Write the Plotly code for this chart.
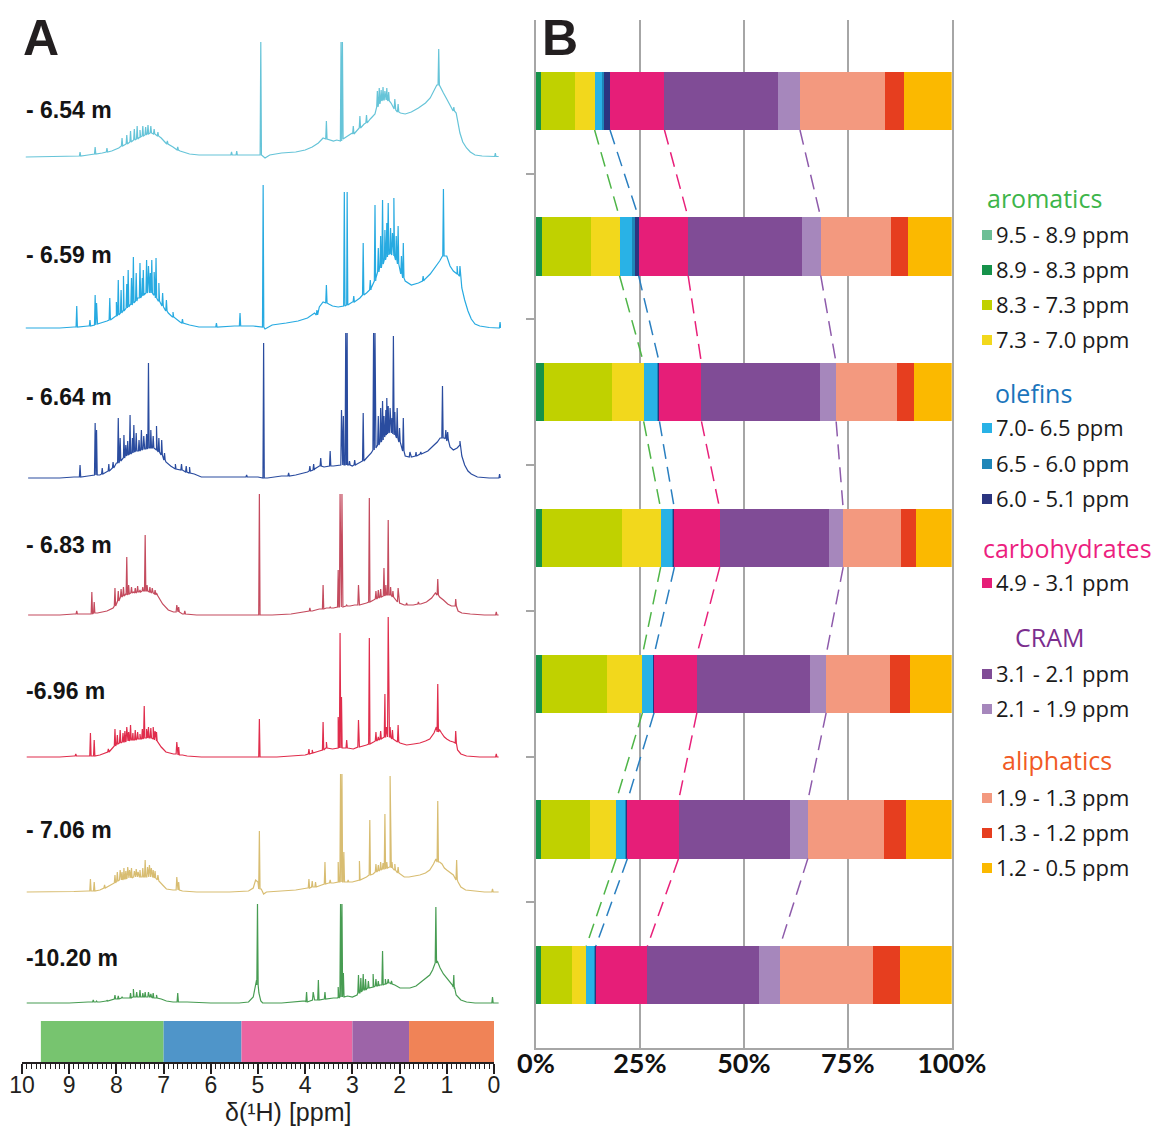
import numpy as np
import plotly.graph_objects as go

# ---------------------------------------------------------------- data ----
# Panel A: 1H NMR spectra, one per depth.  Each spectrum is given as a smooth
# envelope (ppm, intensity) plus a list of resolved lines (ppm, foot, top).
depth_labels = ["- 6.54 m", "- 6.59 m", "- 6.64 m", "- 6.83 m",
                "-6.96 m", "- 7.06 m", "-10.20 m"]
spectrum_colors = ["#66c4d8", "#27aae1", "#2a4c9f", "#c44b5e",
                   "#e02d4c", "#d8bd72", "#479c52"]

env_654 = [(9.92, 0), (9.3, 0.5), (8.9, 1), (8.6, 2), (8.3, 4), (8.1, 6), (7.95, 9),
           (7.8, 13), (7.65, 17), (7.5, 20), (7.35, 23), (7.25, 24), (7.15, 22),
           (7.05, 19), (6.95, 14), (6.8, 10), (6.65, 6), (6.45, 3), (6.25, 2),
           (5.9, 2), (5.6, 2), (5.3, 2), (5.08, 2), (4.85, -1), (4.75, 2), (4.5, 4),
           (4.2, 5), (4.0, 7), (3.85, 10), (3.72, 14), (3.62, 19), (3.48, 17),
           (3.40, 16), (3.33, 17), (3.10, 21), (3.0, 24), (2.9, 27), (2.75, 33),
           (2.62, 38), (2.52, 43), (2.45, 52), (2.38, 57), (2.28, 58), (2.18, 54),
           (2.08, 47), (1.98, 44), (1.88, 43), (1.75, 45), (1.6, 49), (1.45, 54),
           (1.35, 59), (1.27, 66), (1.21, 72), (1.13, 70), (1.07, 64), (1.0, 58),
           (0.93, 52), (0.86, 47), (0.8, 44), (0.77, 36), (0.72, 24), (0.66, 15),
           (0.58, 9), (0.5, 5), (0.4, 2), (0.25, 1), (0.05, 0.5), (-0.1, 0.5)]
lines_654 = [(8.77, 1, 5), (8.45, 3, 10), (8.2, 5, 9), (7.88, 11, 19), (7.78, 13, 22),
             (7.7, 15, 26), (7.62, 17, 28), (7.56, 18, 31), (7.5, 20, 27), (7.44, 21, 31),
             (7.38, 22, 30), (7.33, 23, 32), (7.27, 24, 31), (7.2, 23, 28), (7.12, 21, 25),
             (6.92, 13, 16), (6.7, 7, 10), (5.56, 2, 5), (5.45, 2, 6), (4.94, 2, 115),
             (3.55, 18, 36), (3.24, 16, 115), (3.21, 18, 115),
             (2.98, 23, 31), (2.84, 29, 41), (2.7, 34, 42),
             (2.47, 50, 66), (2.43, 53, 69), (2.39, 56, 67), (2.35, 57, 70),
             (2.31, 57, 66), (2.27, 57, 69), (2.23, 56, 65), (2.1, 48, 58),
             (2.03, 45, 53), (1.17, 72, 108), (0.85, 46, 50), (-0.03, 0.5, 4)]

env_659 = [(9.92, 0), (9.2, 0), (8.9, 1), (8.6, 2), (8.4, 4), (8.2, 7), (8.0, 12),
           (7.85, 18), (7.7, 24), (7.55, 30), (7.42, 34), (7.3, 36), (7.2, 33),
           (7.1, 27), (7.0, 21), (6.9, 15), (6.8, 11), (6.65, 6), (6.45, 3), (6.25, 1),
           (5.9, 1), (5.5, 2), (5.1, 2), (4.85, -1), (4.7, 3), (4.4, 5), (4.15, 7),
           (3.95, 10), (3.8, 15), (3.7, 21), (3.62, 26), (3.5, 24), (3.42, 22),
           (3.3, 21), (3.12, 23), (3.0, 26), (2.84, 30), (2.7, 35), (2.6, 40),
           (2.5, 50), (2.42, 62), (2.32, 70), (2.22, 75), (2.12, 72), (2.02, 64),
           (1.94, 52), (1.88, 47), (1.75, 43), (1.6, 45), (1.48, 48), (1.35, 54),
           (1.25, 60), (1.15, 67), (1.09, 72), (1.0, 72), (0.93, 62), (0.86, 57),
           (0.78, 54), (0.73, 52), (0.68, 40), (0.62, 28), (0.55, 17), (0.48, 9),
           (0.4, 4), (0.3, 2), (0.1, 0.5), (-0.1, 0)]
lines_659 = [(8.84, 1, 22), (8.56, 2, 8), (8.45, 3, 33), (8.42, 4, 25), (8.14, 8, 30),
             (8.0, 12, 26), (7.96, 13, 48), (7.9, 15, 38), (7.85, 17, 52), (7.78, 20, 44),
             (7.75, 21, 58), (7.68, 23, 50), (7.64, 25, 71), (7.58, 27, 55), (7.5, 30, 65),
             (7.45, 32, 50), (7.43, 33, 58), (7.36, 35, 68), (7.32, 36, 62), (7.28, 35, 55),
             (7.25, 35, 68), (7.2, 33, 56), (7.16, 30, 70), (7.1, 27, 45), (7.02, 22, 35),
             (6.94, 17, 28), (6.8, 11, 16), (6.6, 5, 9), (5.88, 1, 5), (5.38, 2, 15),
             (4.89, 1, 143), (3.75, 13, 18), (3.55, 25, 43), (3.17, 22, 136),
             (3.11, 23, 136), (2.97, 26, 32), (2.77, 33, 85), (2.62, 38, 48),
             (2.52, 47, 123), (2.45, 56, 80), (2.4, 60, 92), (2.36, 64, 128),
             (2.31, 68, 98), (2.27, 71, 105), (2.24, 73, 125), (2.19, 74, 100),
             (2.15, 73, 95), (2.12, 72, 130), (2.07, 68, 92), (2.03, 64, 102),
             (1.96, 54, 72), (1.92, 50, 85), (1.5, 47, 52), (1.07, 72, 139),
             (0.78, 54, 62), (0.72, 52, 62), (-0.13, 0, 6)]

env_664 = [(9.87, 0), (9.2, 0), (8.9, 1), (8.6, 2), (8.35, 3), (8.15, 7), (8.0, 15),
           (7.85, 21), (7.7, 25), (7.55, 27), (7.4, 29), (7.28, 30), (7.15, 28),
           (7.05, 24), (6.95, 16), (6.85, 12), (6.75, 9), (6.6, 8), (6.45, 6),
           (6.35, 4), (6.2, 1), (5.8, 1), (5.4, 1), (5.0, 1), (4.8, 0), (4.5, 2),
           (4.2, 3), (3.95, 6), (3.8, 9), (3.7, 12), (3.6, 11), (3.5, 12), (3.4, 12),
           (3.3, 13), (3.1, 13), (3.0, 12), (2.9, 14), (2.8, 16), (2.7, 20), (2.6, 25),
           (2.5, 30), (2.42, 35), (2.32, 42), (2.22, 46), (2.12, 44), (2.02, 38),
           (1.94, 28), (1.88, 22), (1.75, 21), (1.64, 22), (1.5, 25), (1.4, 27),
           (1.29, 32), (1.2, 36), (1.14, 40), (1.05, 40), (1.0, 37), (0.93, 31),
           (0.86, 28), (0.78, 30), (0.72, 33), (0.68, 22), (0.62, 13), (0.55, 7),
           (0.48, 4), (0.35, 1), (0.1, 0), (-0.1, 0)]
lines_664 = [(8.77, 1, 13), (8.45, 3, 55), (8.42, 3, 48), (8.3, 4, 10), (8.16, 7, 14),
             (8.07, 10, 16), (7.96, 15, 60), (7.92, 17, 40), (7.84, 20, 43), (7.8, 22, 33),
             (7.76, 23, 37), (7.71, 24, 63), (7.66, 25, 40), (7.63, 26, 53), (7.58, 27, 45),
             (7.52, 27, 38), (7.47, 28, 48), (7.42, 29, 42), (7.36, 29, 44), (7.32, 30, 115),
             (7.27, 30, 48), (7.22, 30, 42), (7.15, 28, 52), (7.1, 26, 40), (7.04, 23, 38),
             (6.98, 18, 25), (6.75, 9, 14), (6.62, 8, 14), (6.52, 6, 12), (6.45, 5, 11),
             (5.24, 1, 3), (4.88, 0, 135), (4.35, 2, 5), (3.9, 7, 12), (3.82, 8, 14),
             (3.67, 12, 20), (3.47, 12, 27), (3.23, 13, 68), (3.19, 13, 62),
             (3.14, 13, 145), (3.11, 13, 145), (3.06, 13, 17), (2.95, 13, 18),
             (2.77, 17, 65), (2.55, 28, 145), (2.52, 30, 145), (2.45, 33, 62),
             (2.4, 36, 70), (2.36, 38, 77), (2.33, 41, 62), (2.29, 43, 68),
             (2.27, 44, 80), (2.24, 45, 72), (2.2, 46, 70), (2.16, 45, 60),
             (2.13, 44, 142), (2.1, 43, 66), (2.05, 40, 70), (2.0, 36, 50),
             (1.92, 27, 60), (1.78, 21, 26), (1.65, 22, 26), (1.55, 24, 26),
             (1.09, 40, 92), (1.02, 39, 48), (0.98, 38, 46), (0.72, 33, 37),
             (-0.12, 0, 4)]

env_683 = [(9.87, 0), (9.2, 0), (8.9, 1), (8.6, 1), (8.4, 2), (8.2, 4), (8.07, 7),
           (7.95, 18), (7.8, 21), (7.64, 23), (7.5, 24), (7.36, 24), (7.22, 22),
           (7.12, 19), (7.02, 11), (6.9, 5), (6.79, 3), (6.6, 1), (6.3, 0), (5.6, 0),
           (5.1, 0), (4.9, 0), (4.7, 0), (4.3, 1), (4.0, 3), (3.85, 4), (3.7, 6),
           (3.55, 7), (3.4, 7), (3.2, 8), (3.05, 9), (2.95, 10), (2.85, 10), (2.7, 12),
           (2.55, 15), (2.42, 18), (2.3, 20), (2.2, 20), (2.1, 16), (2.0, 12), (1.9, 10),
           (1.71, 10), (1.55, 11), (1.43, 13), (1.32, 17), (1.24, 22), (1.15, 18),
           (1.07, 15), (0.98, 11), (0.9, 9), (0.82, 9), (0.76, 4), (0.68, 2), (0.5, 1),
           (0.2, 0), (-0.1, 0)]
lines_683 = [(8.84, 1, 4), (8.52, 1, 23), (8.47, 2, 13), (8.03, 9, 27), (7.96, 14, 24),
             (7.9, 18, 26), (7.85, 19, 28), (7.78, 20, 58), (7.74, 21, 30), (7.68, 22, 28),
             (7.6, 22, 27), (7.55, 23, 29), (7.5, 23, 25), (7.44, 24, 28), (7.39, 24, 80),
             (7.35, 24, 30), (7.29, 23, 28), (7.24, 22, 27), (7.18, 21, 25), (7.15, 20, 22),
             (6.72, 3, 10), (6.68, 3, 8), (6.55, 1, 4), (4.97, 0, 121), (3.9, 4, 7),
             (3.62, 6, 30), (3.47, 7, 8), (3.3, 8, 45), (3.26, 8, 121), (3.22, 8, 121),
             (3.12, 9, 10), (2.87, 10, 30), (2.64, 13, 117),
             (2.5, 16, 24), (2.45, 17, 25), (2.4, 18, 26), (2.33, 19, 47), (2.29, 20, 30),
             (2.24, 20, 95), (2.19, 20, 28), (2.14, 18, 24), (2.03, 13, 27),
             (1.85, 10, 12), (1.6, 11, 13), (1.19, 20, 36), (0.81, 9, 16), (-0.05, 0, 3)]

env_696 = [(9.9, 0), (9.2, 0), (8.9, 1), (8.6, 1), (8.35, 2), (8.14, 6), (8.0, 13),
           (7.85, 15), (7.64, 17), (7.5, 18), (7.36, 19), (7.22, 18), (7.15, 16),
           (7.05, 10), (6.95, 5), (6.79, 3), (6.6, 2), (6.5, 1), (6.2, 0), (5.5, 0),
           (5.08, 0), (4.88, 0), (4.6, 0), (4.3, 1), (4.0, 2), (3.85, 4), (3.7, 6),
           (3.55, 9), (3.42, 8), (3.3, 9), (3.1, 9), (2.98, 8), (2.85, 10), (2.7, 12),
           (2.55, 15), (2.42, 18), (2.3, 20), (2.2, 20), (2.1, 17), (1.99, 14),
           (1.85, 12), (1.7, 13), (1.57, 14), (1.45, 16), (1.36, 18), (1.27, 24),
           (1.22, 30), (1.15, 27), (1.11, 24), (1.05, 20), (1.0, 18), (0.93, 16),
           (0.86, 15), (0.82, 14), (0.77, 7), (0.7, 3), (0.58, 1), (0.3, 0), (-0.1, 0)]
lines_696 = [(8.86, 1, 3), (8.55, 1, 24), (8.47, 1, 17), (8.17, 5, 8), (8.03, 11, 28),
             (7.98, 13, 22), (7.92, 14, 27), (7.86, 15, 24), (7.82, 15, 26), (7.78, 16, 30),
             (7.74, 16, 25), (7.7, 17, 32), (7.65, 17, 24), (7.6, 17, 27), (7.55, 18, 25),
             (7.5, 18, 23), (7.45, 18, 28), (7.41, 19, 51), (7.36, 19, 28), (7.32, 19, 30),
             (7.27, 19, 29), (7.22, 18, 30), (7.18, 17, 26), (7.15, 16, 25), (6.72, 3, 15),
             (6.68, 2, 10), (4.97, 0, 38), (3.92, 3, 8), (3.85, 4, 7), (3.62, 7, 35),
             (3.55, 9, 15), (3.3, 9, 40), (3.26, 9, 124), (3.23, 9, 60), (3.12, 9, 17),
             (2.87, 10, 37), (2.64, 13, 119), (2.5, 16, 25), (2.45, 17, 20), (2.4, 18, 26),
             (2.31, 20, 63), (2.28, 20, 30), (2.24, 20, 140), (2.2, 20, 30),
             (2.15, 18, 27), (2.03, 15, 32), (1.19, 25, 73), (0.81, 14, 26), (-0.05, 0, 3)]

env_706 = [(9.9, 0), (9.2, 0), (8.9, 0.5), (8.6, 1), (8.35, 2), (8.07, 8), (7.95, 12),
           (7.85, 13), (7.64, 15), (7.5, 15), (7.36, 15), (7.22, 15), (7.1, 11), (7.0, 6),
           (6.94, 3), (6.8, 2), (6.6, 1), (6.3, 0), (5.6, 0), (5.2, 1), (5.1, 4),
           (5.05, 12), (5.0, 10), (4.93, 3), (4.88, -2), (4.82, 0), (4.5, 1), (4.2, 2),
           (3.95, 4), (3.8, 5), (3.65, 7), (3.5, 9), (3.4, 9), (3.3, 10), (3.1, 10),
           (3.0, 10), (2.85, 12), (2.7, 15), (2.56, 18), (2.42, 22), (2.3, 24), (2.2, 25),
           (2.1, 22), (1.99, 18), (1.9, 15), (1.8, 15), (1.65, 16), (1.57, 17), (1.45, 19),
           (1.36, 22), (1.28, 28), (1.23, 33), (1.15, 30), (1.1, 28), (1.05, 24),
           (1.0, 22), (0.93, 19), (0.86, 17), (0.8, 15), (0.76, 10), (0.7, 5), (0.6, 2),
           (0.4, 1), (0.2, 0), (-0.1, 0)]
lines_706 = [(8.55, 1, 13), (8.47, 1, 10), (8.25, 4, 7), (8.03, 9, 17), (7.98, 11, 20),
             (7.92, 12, 22), (7.88, 12, 20), (7.84, 13, 24), (7.8, 13, 21), (7.76, 14, 25),
             (7.72, 14, 22), (7.68, 14, 24), (7.62, 15, 21), (7.58, 15, 23), (7.54, 15, 20),
             (7.5, 15, 22), (7.44, 15, 24), (7.39, 15, 32), (7.34, 15, 25), (7.3, 15, 27),
             (7.26, 15, 24), (7.22, 15, 22), (7.18, 14, 21), (7.12, 12, 17), (6.72, 2, 15),
             (6.68, 2, 10), (4.97, 3, 61), (3.92, 4, 13), (3.85, 5, 11), (3.78, 5, 10),
             (3.58, 8, 30), (3.47, 9, 12), (3.3, 10, 30), (3.25, 10, 118),
             (3.22, 10, 118), (3.18, 10, 40), (3.09, 10, 12), (2.85, 12, 31),
             (2.63, 17, 72), (2.5, 20, 28), (2.45, 21, 27), (2.4, 22, 30), (2.35, 23, 29),
             (2.31, 23, 78), (2.27, 24, 30), (2.2, 25, 116), (2.16, 24, 30), (2.1, 22, 28),
             (2.03, 19, 25), (1.19, 30, 91), (0.79, 12, 32), (0.03, 0, 3)]

env_1020 = [(9.9, 0), (9.0, 0), (8.6, 1), (8.35, 1), (8.2, 2), (8.0, 4), (7.8, 5),
            (7.64, 6), (7.45, 6), (7.3, 6), (7.15, 5), (7.05, 4), (6.94, 2), (6.8, 1),
            (6.5, 1), (6.0, 0), (5.4, 0), (5.2, 1), (5.1, 6), (5.06, 18), (5.03, 23),
            (4.98, 10), (4.94, 2), (4.9, 0), (4.5, 0), (4.2, 1), (4.0, 2), (3.8, 3),
            (3.6, 4), (3.4, 5), (3.3, 6), (3.1, 7), (3.0, 6), (2.9, 8), (2.84, 10),
            (2.7, 14), (2.56, 16), (2.42, 18), (2.3, 19), (2.2, 20), (2.1, 18), (1.99, 15),
            (1.85, 15), (1.78, 15), (1.65, 17), (1.57, 20), (1.5, 22), (1.43, 25),
            (1.36, 28), (1.3, 33), (1.26, 40), (1.2, 42), (1.14, 35), (1.07, 29),
            (1.0, 25), (0.93, 20), (0.88, 18), (0.84, 14), (0.8, 8), (0.7, 3), (0.58, 1),
            (0.4, 0), (-0.1, 0)]
lines_1020 = [(8.49, 1, 3), (8.42, 1, 2), (8.2, 2, 3), (8.03, 4, 8), (7.96, 4, 7),
              (7.88, 5, 6), (7.7, 5, 10), (7.64, 6, 14), (7.57, 6, 11), (7.5, 6, 13),
              (7.44, 6, 10), (7.39, 6, 11), (7.32, 6, 11), (7.27, 6, 9), (7.22, 5, 10),
              (7.15, 5, 8), (6.7, 1, 10), (5.01, 18, 99), (3.97, 1, 11), (3.83, 3, 11),
              (3.72, 3, 23), (3.58, 4, 11), (3.3, 5, 16), (3.25, 6, 99), (3.22, 6, 99),
              (3.19, 6, 30), (2.87, 10, 28), (2.82, 11, 25), (2.77, 13, 29),
              (2.72, 13, 24), (2.66, 15, 22), (2.56, 16, 29), (2.5, 17, 24),
              (2.45, 17, 22), (2.36, 18, 52), (2.3, 19, 24), (2.24, 20, 24),
              (2.17, 19, 22), (1.23, 40, 96), (0.85, 16, 28), (0.03, 0, 6)]

spectra = [(env_654, lines_654), (env_659, lines_659), (env_664, lines_664),
           (env_683, lines_683), (env_696, lines_696), (env_706, lines_706),
           (env_1020, lines_1020)]

# chemical-shift regions shown as the colour strip under the spectra
region_edges = [9.6, 7.0, 5.35, 3.0, 1.8, 0.0]
region_colors = ["#77c46f", "#4f95c9", "#ec64a1", "#9d64a8", "#f08357"]

# Panel B: relative integrals (%) of each spectral window, one value per depth
frac_95_89 = [0.1, 0.1, 0.1, 0.1, 0.1, 0.1, 0.1]
frac_89_83 = [1.2, 1.4, 1.8, 1.4, 1.4, 1.2, 1.0]
frac_83_73 = [8.2, 11.8, 16.4, 19.1, 15.5, 11.6, 7.5]
frac_73_70 = [4.6, 6.8, 7.6, 9.4, 8.6, 6.4, 3.5]
frac_70_65 = [2.0, 3.0, 3.4, 2.9, 2.6, 2.2, 1.9]
frac_65_60 = [0.3, 0.8, 0.2, 0.2, 0.1, 0.2, 0.2]
frac_60_51 = [1.4, 0.8, 0.2, 0.2, 0.1, 0.3, 0.2]
frac_49_31 = [13.1, 11.9, 10.1, 10.9, 10.3, 12.3, 12.4]
frac_31_21 = [27.3, 27.5, 28.5, 26.2, 27.2, 26.8, 26.8]
frac_21_19 = [5.3, 4.4, 3.9, 3.5, 3.9, 4.3, 5.1]
frac_19_13 = [20.5, 16.9, 14.7, 13.9, 15.4, 18.3, 22.4]
frac_13_12 = [4.5, 4.1, 4.0, 3.5, 4.7, 5.4, 6.4]
frac_12_05 = [11.5, 10.5, 9.1, 8.7, 10.1, 10.9, 12.5]

window_labels = ["9.5 - 8.9 ppm", "8.9 - 8.3 ppm", "8.3 - 7.3 ppm", "7.3 - 7.0 ppm",
                 "7.0- 6.5 ppm", "6.5 - 6.0 ppm", "6.0 - 5.1 ppm",
                 "4.9 - 3.1 ppm",
                 "3.1 - 2.1 ppm", "2.1 - 1.9 ppm",
                 "1.9 - 1.3 ppm", "1.3 - 1.2 ppm", "1.2 - 0.5 ppm"]
window_colors = ["#6cbf96", "#16924a", "#c0d100", "#f2d81c", "#29b2e6", "#1e86b8",
                 "#2b3580", "#e61e78", "#804c96", "#a687bc", "#f3997f", "#e63e1f",
                 "#fbb900"]
group_names = ["aromatics", "olefins", "carbohydrates", "CRAM", "aliphatics"]
group_colors = ["#3db54a", "#1b75bc", "#ec1f80", "#7b2d8e", "#f15a24"]
group_sizes = [4, 3, 1, 2, 3]
pct_ticks = [0, 25, 50, 75, 100]

fractions = [frac_95_89, frac_89_83, frac_83_73, frac_73_70, frac_70_65, frac_65_60,
             frac_60_51, frac_49_31, frac_31_21, frac_21_19, frac_19_13, frac_13_12,
             frac_12_05]

# ------------------------------------------------------------- layout ----
W, H = 1160, 1130


def fx(p):
    return p / W


def fy(p):
    return 1 - p / H


# vertical stacking of the spectra (axis units)
stack_offsets = [855, 684, 534, 397, 255, 120, 9]
label_rows = [110, 255, 397, 545, 691, 830, 958]


def spectrum_xy(env, lines, half_width=0.014):
    pts = list(env)
    for ppm, foot, top in lines:
        pts += [(ppm + half_width, foot), (ppm, top), (ppm - half_width, foot)]
    pts.sort(key=lambda t: -t[0])
    return [p[0] for p in pts], [p[1] for p in pts]


fig = go.Figure()

for (env, lines), off, col in zip(spectra, stack_offsets, spectrum_colors):
    xs, ys = spectrum_xy(env, lines)
    fig.add_trace(go.Scatter(x=xs, y=[off + v for v in ys], mode="lines",
                             line=dict(color=col, width=1.2), xaxis="x", yaxis="y",
                             hoverinfo="skip", showlegend=False))

# stacked composition bars
depth_idx = list(range(len(depth_labels)))
for vals, col in zip(fractions, window_colors):
    fig.add_trace(go.Bar(y=depth_idx, x=vals, orientation="h", width=0.4,
                         marker=dict(color=col, line=dict(width=0)),
                         xaxis="x3", yaxis="y3", showlegend=False, hoverinfo="skip"))

# dashed connectors tracking the end of each compound class
connector_colors = ["#4fb548", "#2a7fc0", "#e8207a", "#8e5bab"]
cum = np.cumsum(np.array(fractions), axis=0)
class_ends = np.cumsum(group_sizes)[:-1] - 1
for k, ccol in zip(class_ends, connector_colors):
    for i in range(len(depth_idx) - 1):
        fig.add_trace(go.Scatter(x=[cum[k][i], cum[k][i + 1]], y=[i + 0.2, i + 0.8],
                                 mode="lines", xaxis="x3", yaxis="y3",
                                 line=dict(color=ccol, width=1.5, dash="15px,8px"),
                                 hoverinfo="skip", showlegend=False))

shapes = []
for a, b, col in zip(region_edges[:-1], region_edges[1:], region_colors):
    shapes.append(dict(type="rect", xref="x2", yref="y2", x0=a, x1=b, y0=0, y1=1,
                       fillcolor=col, line=dict(width=0), layer="below"))

annotations = []
for lab, row in zip(depth_labels, label_rows):
    annotations.append(dict(x=fx(24), y=fy(row), xref="paper", yref="paper",
                            xanchor="left", yanchor="middle", showarrow=False,
                            text="<b>%s</b>" % lab,
                            font=dict(family="Liberation Sans, Arial", size=23,
                                      color="#141414")))

for letter, x in (("A", 21), ("B", 540)):
    annotations.append(dict(x=fx(x), y=fy(38), xref="paper", yref="paper",
                            xanchor="left", yanchor="middle", showarrow=False,
                            text="<b>%s</b>" % letter,
                            font=dict(family="Liberation Sans, Arial", size=50,
                                      color="#231f20")))

annotations.append(dict(x=fx(288), y=fy(1112), xref="paper", yref="paper",
                        xanchor="center", yanchor="middle", showarrow=False,
                        text="δ(¹H) [ppm]",
                        font=dict(family="Liberation Sans, Arial", size=25,
                                  color="#231f20")))

# legend for the spectral windows, grouped by compound class
heading_rows = [198, 393, 548, 637, 760]
heading_left = [987, 995, 983, 1015, 1002]
item_rows = [234, 269, 304, 339, 427, 463, 498, 582, 673, 708, 797, 832, 867]
for name, col, row, left in zip(group_names, group_colors, heading_rows, heading_left):
    annotations.append(dict(x=fx(left - 2), y=fy(row), xref="paper", yref="paper",
                            xanchor="left", yanchor="middle", showarrow=False,
                            text=name,
                            font=dict(family="Open Sans, Arial", size=25, color=col)))
for lab, col, row in zip(window_labels, window_colors, item_rows):
    shapes.append(dict(type="rect", xref="paper", yref="paper",
                       x0=fx(982), x1=fx(992), y0=fy(row + 6), y1=fy(row - 4),
                       fillcolor=col, line=dict(width=0)))
    annotations.append(dict(x=fx(994), y=fy(row), xref="paper", yref="paper",
                            xanchor="left", yanchor="middle", showarrow=False,
                            text=lab,
                            font=dict(family="Open Sans, Arial", size=22,
                                      color="#1a1a1a")))

grid = "#a6a6a6"
fig.update_layout(
    width=W, height=H, margin=dict(l=0, r=0, t=0, b=0, autoexpand=False),
    paper_bgcolor="white", plot_bgcolor="white",
    barmode="stack", bargap=0,
    shapes=shapes, annotations=annotations,
    xaxis=dict(domain=[fx(22), fx(501)], range=[10, -0.15], visible=False,
               anchor="y", automargin=False),
    yaxis=dict(domain=[fy(1012), fy(22)], range=[0, 990], visible=False,
               anchor="x", automargin=False),
    xaxis2=dict(domain=[fx(22), fx(494)], range=[10, 0], anchor="y2",
                automargin=False,
                showline=True, linecolor="#231f20", linewidth=1.5,
                ticks="outside", ticklen=10, tickwidth=1.5, tickcolor="#231f20",
                tick0=0, dtick=1, showgrid=False, zeroline=False,
                ticklabelstandoff=-8,
                minor=dict(dtick=0.1, ticks="outside", ticklen=5, tickwidth=1,
                           tickcolor="#231f20", showgrid=False),
                tickfont=dict(family="Liberation Sans, Arial", size=23,
                              color="#231f20")),
    yaxis2=dict(domain=[fy(1062), fy(1021)], range=[0, 1], visible=False,
                anchor="x2", automargin=False),
    xaxis3=dict(domain=[fx(536), fx(951.7)], range=[0, 100], anchor="y3",
                automargin=False,
                tickvals=pct_ticks, ticktext=["<b>%d%%</b>" % v for v in pct_ticks],
                tickfont=dict(family="Lato, Open Sans, Arial", size=27,
                              color="#111111"),
                ticklabelstandoff=-9,
                showgrid=True, gridcolor=grid, gridwidth=2,
                showline=True, linecolor=grid, linewidth=2, zeroline=False,
                ticks=""),
    yaxis3=dict(domain=[fy(1048), fy(20)], range=[6.5, -0.555], anchor="x3",
                automargin=False,
                showline=True, linecolor=grid, linewidth=2, mirror=True,
                ticks="outside", tickvals=[0.5, 1.5, 2.5, 3.5, 4.5, 5.5],
                ticklen=8, tickwidth=2, tickcolor=grid, showticklabels=False,
                showgrid=False, zeroline=False),
)

fig.write_html("out.html")
